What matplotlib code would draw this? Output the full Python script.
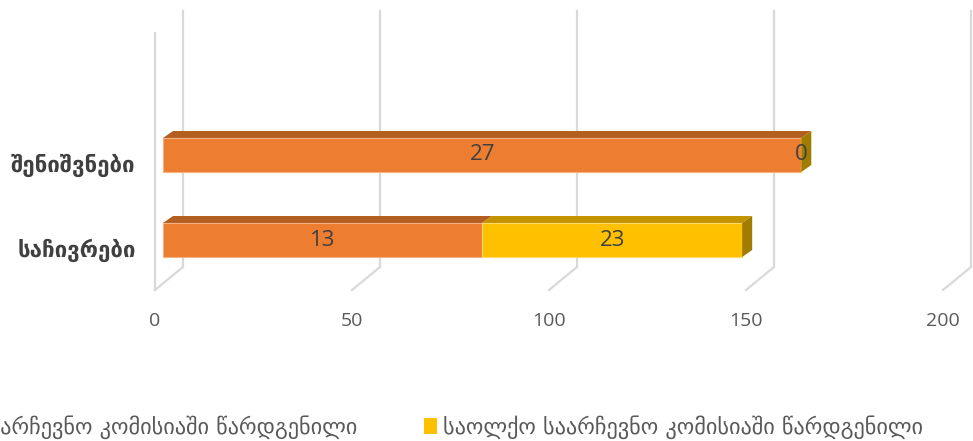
import matplotlib
matplotlib.use("Agg")
import matplotlib.pyplot as plt
from matplotlib.patches import Polygon, Patch
import numpy as np

# ── data ────────────────────────────────────────────────
categories = ["საჩივრები", "შენიშვნები"]
series_names = ["საუბნო საარჩევნო კომისიაში წარდგენილი",
                "საოლქო საარჩევნო კომისიაში წარდგენილი"]
precinct_vals = [81, 162]       # bar lengths
district_vals = [66, 0]
precinct_labels = ["13", "27"]   # labels printed on the bars
district_labels = ["23", "0"]
x_ticks = [0, 50, 100, 150, 200]

# ── style ──────────────────────────────────────────────
FRONT = ["#ED7D31", "#FFC000"]
TOP = ["#B55E22", "#C49300"]
SIDE = ["#A35420", "#A07C00"]
EDGE = ["#F4B183", "#FFD966"]
GRID = "#D9D9D9"
plt.rcParams["font.family"] = ["Open Sans", "DejaVu Sans"]

W, H = 973, 441
fig = plt.figure(figsize=(W / 100, H / 100), dpi=100)
ax = fig.add_axes([155 / W, 151 / H, 788 / W, 279 / H])

PX_X = 788 / 200          # px per value unit
PX_Y = 85                 # px per category
y0 = -50 / PX_Y
ax.set_xlim(0, 200)
ax.set_ylim(y0, y0 + 279 / PX_Y)

# 3D offsets
wall_dx, wall_dy = 28 / PX_X, 23 / PX_Y
bar_dx, bar_dy = 10 / PX_X, 7 / PX_Y
bar_x0 = 8 / PX_X
bar_h = 34 / PX_Y
top_y = y0 + 279 / PX_Y

# walls / gridlines
for t in x_ticks:
    ax.plot([t + wall_dx, t + wall_dx], [y0 + wall_dy, top_y], color=GRID, lw=1.6,
            clip_on=False, zorder=1)
    ax.plot([t, t + wall_dx], [y0, y0 + wall_dy], color=GRID, lw=1.6,
            clip_on=False, zorder=1)
ax.plot([0, 0], [y0, top_y - 22 / PX_Y], color=GRID, lw=1.6, clip_on=False, zorder=1)

# bars
ypos = np.arange(len(categories))
for i, y in enumerate(ypos):
    segs = [precinct_vals[i], district_vals[i]]
    labs = [precinct_labels[i], district_labels[i]]
    left = bar_x0
    for k, (v, lab) in enumerate(zip(segs, labs)):
        ax.barh(y, v, left=left, height=bar_h, color=FRONT[k], edgecolor=EDGE[k],
                linewidth=0.8, zorder=3)
        yt = y + bar_h / 2
        ax.add_patch(Polygon([(left, yt), (left + v, yt), (left + v + bar_dx, yt + bar_dy),
                              (left + bar_dx, yt + bar_dy)], closed=True,
                             facecolor=TOP[k], edgecolor="none", zorder=2))
        ax.text(left + v / 2, y, lab, ha="center", va="center", fontsize=16,
                color="#404040", zorder=5)
        left += v
    yb = y - bar_h / 2
    ax.add_patch(Polygon([(left, yb), (left + bar_dx, yb + bar_dy),
                          (left + bar_dx, yb + bar_h + bar_dy), (left, yb + bar_h)],
                         closed=True, facecolor=SIDE[1], edgecolor="none", zorder=4))

# axes
ax.set_xticks(x_ticks)
ax.set_xticklabels([str(t) for t in x_ticks], fontsize=14, color="#595959")
ax.set_yticks(ypos - 8 / PX_Y)
ax.set_yticklabels(categories, fontsize=16, color="#404040", family=["DejaVu Sans"],
                   fontweight="bold")
ax.tick_params(axis="x", length=0, pad=16)
ax.tick_params(axis="y", length=0, pad=14)
for s in ax.spines.values():
    s.set_visible(False)

# legend (the first entry runs off the left edge, as in the source)
handles = [Patch(facecolor=c, edgecolor="none") for c in FRONT]
fig.legend(handles, series_names, ncol=2, loc="center right", frameon=False,
           bbox_to_anchor=(934 / W, 1 - 427 / H), handlelength=0.6,
           handleheight=0.7, handletextpad=0.25, columnspacing=3.0, borderpad=0,
           labelcolor="#595959", prop={"family": ["DejaVu Sans"], "size": 16})

fig.savefig("out.png", dpi=100)
